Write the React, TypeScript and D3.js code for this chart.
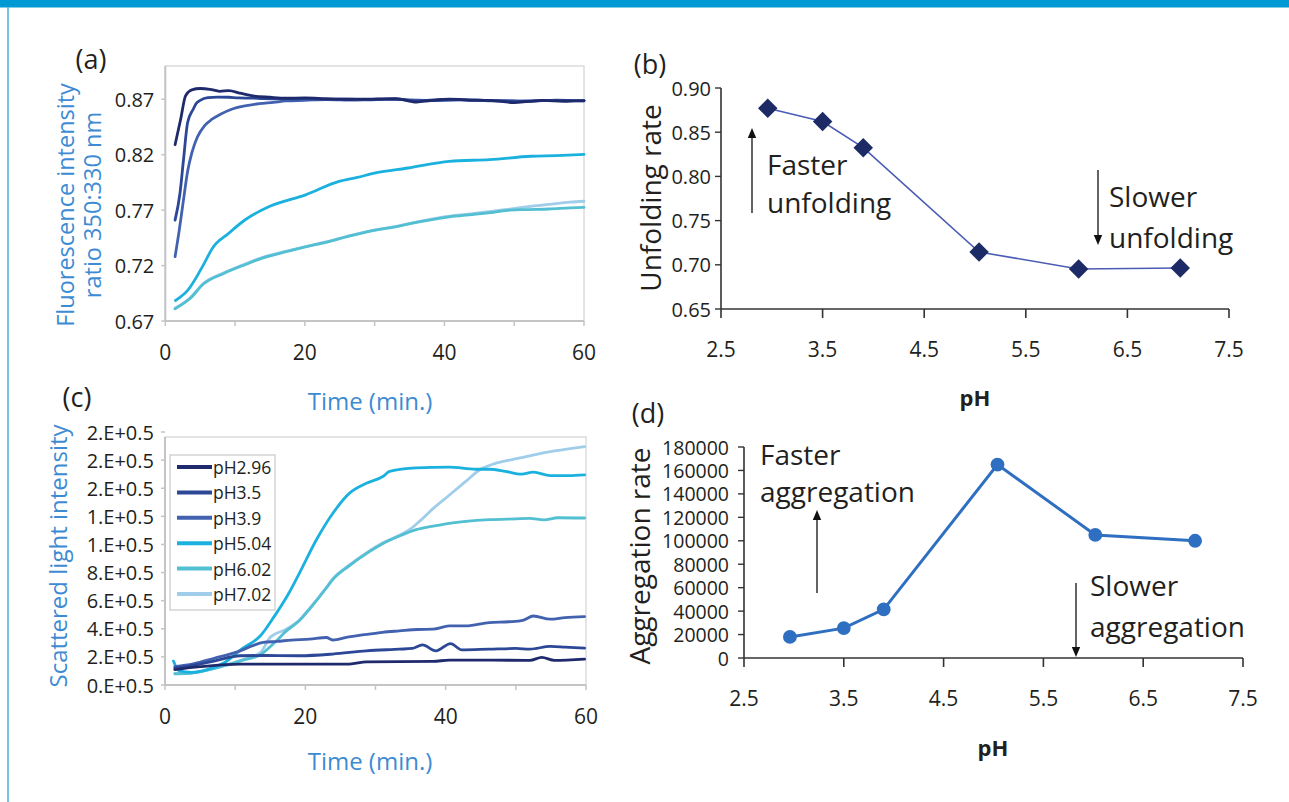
import React from 'react';
import * as d3 from 'd3';

const W = 1289;
const H = 802;
const FONT = "'Open Sans', 'Noto Sans', sans-serif";
const INK = '#231f20';
const BLUE_TITLE = '#3d8bd3';

// ---------- shared categories ----------
const phLabels = ['pH2.96', 'pH3.5', 'pH3.9', 'pH5.04', 'pH6.02', 'pH7.02'];
const phColors = ['#1f2a6d', '#2b4796', '#4262b0', '#1bb1de', '#52bfd2', '#a0cdea'];
const timeTicks = [0, 10, 20, 30, 40, 50, 60];
const timeTickLabels = [0, 20, 40, 60];

// ---------- panel (a): fluorescence ratio vs time ----------
const aTicksY = [0.67, 0.72, 0.77, 0.82, 0.87];
const aT296 = [1.4, 2.2, 2.9, 3.8, 5.0, 6.4, 7.8, 9.1, 10.7, 12.6, 15, 17.3, 20, 23.1, 26, 28.9, 33, 36, 38, 40.7, 43, 46.5, 50, 52, 54.2, 57, 60];
const aV296 = [0.829, 0.852, 0.873, 0.8785, 0.8797, 0.879, 0.8772, 0.8778, 0.8755, 0.873, 0.8718, 0.871, 0.8712, 0.8705, 0.870, 0.8702, 0.8706, 0.8675, 0.8688, 0.8702, 0.8695, 0.869, 0.867, 0.868, 0.869, 0.8682, 0.8688];
const aT35 = [1.4, 2.1, 2.6, 3.2, 4.0, 4.4, 5.0, 6.1, 7.5, 9.1, 10.5, 12.6, 14, 17, 20, 23, 26, 29, 33, 36, 40, 44, 48, 52, 56, 60];
const aV35 = [0.761, 0.785, 0.815, 0.849, 0.861, 0.866, 0.869, 0.8715, 0.872, 0.8718, 0.8712, 0.871, 0.8705, 0.8703, 0.8705, 0.8698, 0.8702, 0.8695, 0.8703, 0.8685, 0.8698, 0.869, 0.8688, 0.8682, 0.8692, 0.8686];
const aT39 = [1.4, 2.0, 2.6, 3.2, 3.8, 4.6, 5.6, 6.7, 7.9, 9.5, 11.4, 13.5, 15.5, 17.3, 20, 23.1, 27, 31, 35, 39, 43, 47, 51, 55, 60];
const aV39 = [0.728, 0.752, 0.779, 0.805, 0.8216, 0.836, 0.846, 0.852, 0.8564, 0.861, 0.864, 0.866, 0.8672, 0.8685, 0.869, 0.8698, 0.8692, 0.870, 0.8694, 0.8688, 0.8696, 0.8686, 0.8684, 0.869, 0.8686];
const aT504 = [1.46, 3.2, 5.56, 6.73, 9.07, 11.4, 14.9, 20.1, 24.9, 27.5, 30.1, 34.8, 40.7, 46.5, 52.4, 56, 60];
const aV504 = [0.6885, 0.6976, 0.7218, 0.7354, 0.749, 0.7611, 0.7732, 0.7838, 0.7959, 0.7995, 0.8035, 0.808, 0.814, 0.8156, 0.8186, 0.8192, 0.8202];
const aTLight = [1.4, 3.5, 5.5, 8.3, 11.5, 14, 17, 20.1, 23, 26, 30.1, 33, 36, 40.7, 44, 47, 49.4, 52, 55, 58, 60];
const aV602 = [0.681, 0.690, 0.7036, 0.7127, 0.721, 0.727, 0.732, 0.7369, 0.741, 0.746, 0.752, 0.755, 0.759, 0.764, 0.766, 0.768, 0.770, 0.7705, 0.771, 0.772, 0.7725];
const aV702 = [0.6815, 0.6905, 0.704, 0.7132, 0.7215, 0.7275, 0.7325, 0.7372, 0.7413, 0.7462, 0.7522, 0.7553, 0.7592, 0.7645, 0.7668, 0.7692, 0.771, 0.7732, 0.7752, 0.7772, 0.778];

// ---------- panel (c): scattered light vs time (units of 1e5) ----------
const cTicksY = [0, 2, 4, 6, 8, 10, 12, 14, 16, 18];
const cTickLabels = ['0.E+0.5', '2.E+0.5', '4.E+0.5', '6.E+0.5', '8.E+0.5', '1.E+0.5', '1.E+0.5', '2.E+0.5', '2.E+0.5', '2.E+0.5'];
const cT296 = [1.4, 5, 10.7, 19.2, 26.3, 28.7, 38.2, 40.5, 46.2, 52, 53.7, 55.5, 59.8];
const cV296 = [1.1, 1.3, 1.49, 1.49, 1.49, 1.65, 1.68, 1.77, 1.77, 1.75, 1.96, 1.75, 1.84];
const cT35 = [1.4, 4, 7, 10.7, 14, 19.2, 23.9, 28.7, 33.4, 35.2, 36.7, 38.6, 40.7, 42.3, 46.2, 50, 52, 54.9, 57, 59.8];
const cV35 = [1.2, 1.4, 1.7, 2.08, 2.1, 2.08, 2.2, 2.43, 2.55, 2.6, 2.85, 2.43, 2.95, 2.5, 2.55, 2.6, 2.55, 2.75, 2.7, 2.62];
const cT39 = [1.4, 4, 7, 10.7, 12.5, 14, 16, 18, 20.6, 23, 23.9, 26, 28.7, 31, 33.4, 36, 38.2, 40.5, 42.9, 46.2, 49, 51, 52.5, 54.9, 57, 59.8];
const cV39 = [1.3, 1.5, 1.9, 2.43, 2.8, 3.03, 3.1, 3.2, 3.26, 3.38, 3.2, 3.4, 3.6, 3.75, 3.85, 3.95, 3.97, 4.2, 4.2, 4.44, 4.5, 4.6, 4.91, 4.68, 4.8, 4.87];
const cT504 = [1.2, 2.0, 3.8, 6.0, 8.5, 10.9, 13.6, 15.6, 17.5, 19.2, 21.6, 23.9, 26.3, 28.7, 31.1, 32.0, 35.8, 40.5, 44.3, 46.2, 48.5, 50.8, 52.5, 54.9, 57.5, 59.8];
const cV504 = [1.7, 1.0, 0.9, 1.1, 1.6, 2.55, 3.5, 4.9, 6.4, 8.0, 10.35, 12.2, 13.65, 14.35, 14.85, 15.2, 15.45, 15.5, 15.35, 15.35, 15.2, 15.0, 15.15, 14.9, 14.9, 14.95];
const cT602 = [1.4, 3.8, 6.0, 8.5, 11.0, 13.6, 15.6, 17.2, 19.2, 20.6, 23.0, 23.9, 26.3, 28.7, 31.0, 33.4, 35.8, 38.2, 40.5, 42.9, 46.2, 50, 52, 54, 56, 59.8];
const cV602 = [0.8, 0.85, 1.05, 1.37, 1.75, 2.15, 3.0, 3.8, 4.6, 5.4, 6.9, 7.5, 8.5, 9.35, 10.05, 10.6, 11.05, 11.3, 11.5, 11.64, 11.76, 11.82, 11.85, 11.75, 11.9, 11.88];
const cT702 = [1.4, 3.8, 6.0, 8.5, 11.0, 13.6, 15.0, 17.2, 19.2, 20.6, 23.0, 23.9, 26.3, 28.7, 31.0, 33.4, 35.0, 36.5, 38.2, 40.5, 42.9, 44.8, 47, 49.1, 52, 54.9, 57.5, 59.8];
const cV702 = [0.8, 0.85, 1.05, 1.4, 1.8, 2.3, 3.4, 3.95, 4.65, 5.45, 6.95, 7.55, 8.55, 9.4, 10.1, 10.65, 11.1, 11.75, 12.55, 13.5, 14.5, 15.3, 15.75, 16.0, 16.3, 16.6, 16.8, 16.96];

// ---------- panels (b) and (d): rates vs pH ----------
const phValues = [2.96, 3.5, 3.9, 5.04, 6.02, 7.02];
const unfoldingRate = [0.877, 0.862, 0.8325, 0.7145, 0.6952, 0.6963];
const aggregationRate = [18000, 25500, 41500, 165000, 105000, 100000];
const phTicks = [2.5, 3.5, 4.5, 5.5, 6.5, 7.5];
const bTicksY = [0.65, 0.7, 0.75, 0.8, 0.85, 0.9];
const dTicksY = [0, 20000, 40000, 60000, 80000, 100000, 120000, 140000, 160000, 180000];

type Series = { t: number[]; v: number[]; color: string };
const aSeries: Series[] = [
  { t: aTLight, v: aV702, color: phColors[5] },
  { t: aTLight, v: aV602, color: phColors[4] },
  { t: aT504, v: aV504, color: phColors[3] },
  { t: aT39, v: aV39, color: phColors[2] },
  { t: aT35, v: aV35, color: phColors[1] },
  { t: aT296, v: aV296, color: phColors[0] },
];
const cSeries: Series[] = [
  { t: cT702, v: cV702, color: phColors[5] },
  { t: cT602, v: cV602, color: phColors[4] },
  { t: cT504, v: cV504, color: phColors[3] },
  { t: cT39, v: cV39, color: phColors[2] },
  { t: cT35, v: cV35, color: phColors[1] },
  { t: cT296, v: cV296, color: phColors[0] },
];

function Arrow({ x, from, to }: { x: number; from: number; to: number }) {
  const dir = to < from ? -1 : 1;
  const hl = 10;
  const hw = 4.2;
  return (
    <g>
      <line x1={x} y1={from} x2={x} y2={to - dir * hl} stroke="#222" strokeWidth={1.4} />
      <path d={`M${x},${to} L${x - hw},${to - dir * hl} L${x + hw},${to - dir * hl} Z`} fill="#111" />
    </g>
  );
}

function TimePanel({
  series, x, y, ticksY, tickLabels, frameTop,
}: {
  series: Series[]; x: d3.ScaleLinear<number, number>; y: d3.ScaleLinear<number, number>;
  ticksY: number[]; tickLabels: string[]; frameTop: number;
}) {
  const [x0, x1] = x.range();
  const y0 = y.range()[0];
  const line = (s: Series) =>
    d3.line<number>().x((_, i) => x(s.t[i])).y((d) => y(d)).curve(d3.curveMonotoneX)(s.v) || '';
  return (
    <g>
      <rect x={x0} y={frameTop} width={x1 - x0} height={y0 - frameTop} fill="none" stroke="#dcdcdc" strokeWidth={1.5} />
      <line x1={x0} y1={frameTop} x2={x0} y2={y0} stroke="#c4c4c4" strokeWidth={2} />
      <line x1={x0} y1={y0} x2={x1} y2={y0} stroke="#c4c4c4" strokeWidth={2} />
      {ticksY.map((v) => (
        <line key={'ty' + v} x1={x0 - 4} x2={x0} y1={y(v)} y2={y(v)} stroke="#c4c4c4" strokeWidth={1.5} />
      ))}
      {timeTicks.map((t) => (
        <line key={'tx' + t} x1={x(t)} x2={x(t)} y1={y0} y2={y0 + 5} stroke="#c4c4c4" strokeWidth={1.5} />
      ))}
      {series.map((s, i) => (
        <path key={i} d={line(s)} fill="none" stroke={s.color} strokeWidth={2.8} strokeLinejoin="round" strokeLinecap="round" />
      ))}
      {ticksY.map((v, i) => (
        <text key={'ly' + v} x={x0 - 11} y={y(v)} textAnchor="end" dominantBaseline="central" fontSize={20} fill={INK} fontFamily={FONT}>
          {tickLabels[i]}
        </text>
      ))}
      {timeTickLabels.map((t) => (
        <text key={'lx' + t} x={x(t)} y={y0 + 31} textAnchor="middle" dominantBaseline="central" fontSize={21} fill={INK} fontFamily={FONT}>
          {t}
        </text>
      ))}
    </g>
  );
}

function PhPanel({
  values, x, y, ticksY, tickFmt, kind, lineColor, markerColor, lineWidth, labelGap, tickFont,
}: {
  values: number[]; x: d3.ScaleLinear<number, number>; y: d3.ScaleLinear<number, number>;
  ticksY: number[]; tickFmt: (v: number) => string; kind: 'diamond' | 'circle';
  lineColor: string; markerColor: string; lineWidth: number; labelGap: number; tickFont: number;
}) {
  const [x0, x1] = x.range();
  const y0 = y.range()[0];
  const yTop = y.range()[1];
  const path = d3.line<number>().x((_, i) => x(phValues[i])).y((d) => y(d))(values) || '';
  const sym = d3.symbol().type(kind === 'diamond' ? d3.symbolSquare : d3.symbolCircle).size(kind === 'diamond' ? 190 : 150)();
  return (
    <g>
      <line x1={x0} y1={yTop} x2={x0} y2={y0} stroke="#333" strokeWidth={1.6} />
      <line x1={x0} y1={y0} x2={x1} y2={y0} stroke="#333" strokeWidth={1.6} />
      {ticksY.map((v) => (
        <line key={'ty' + v} x1={x0 - 6} x2={x0} y1={y(v)} y2={y(v)} stroke="#333" strokeWidth={1.4} />
      ))}
      {phTicks.map((p) => (
        <line key={'tx' + p} x1={x(p)} x2={x(p)} y1={y0} y2={y0 + 9} stroke="#333" strokeWidth={1.6} />
      ))}
      <path d={path} fill="none" stroke={lineColor} strokeWidth={lineWidth} />
      {values.map((v, i) => (
        <path key={i} d={sym || ''} transform={`translate(${x(phValues[i])},${y(v)})${kind === 'diamond' ? ' rotate(45)' : ''}`} fill={markerColor} />
      ))}
      {ticksY.map((v) => (
        <text key={'ly' + v} x={x0 - labelGap} y={y(v)} textAnchor="end" dominantBaseline="central" fontSize={tickFont} fill={INK} fontFamily={FONT}>
          {tickFmt(v)}
        </text>
      ))}
      {phTicks.map((p) => (
        <text key={'lx' + p} x={x(p)} y={y0 + 40} textAnchor="middle" dominantBaseline="central" fontSize={21} fill={INK} fontFamily={FONT}>
          {p.toFixed(1)}
        </text>
      ))}
    </g>
  );
}

export default function App() {
  const xa = d3.scaleLinear().domain([0, 60]).range([165.3, 584]);
  const ya = d3.scaleLinear().domain([0.67, 0.9]).range([321, 66]);
  const xc = d3.scaleLinear().domain([0, 60]).range([165, 586]);
  const yc = d3.scaleLinear().domain([0, 18]).range([685, 432]);
  const xb = d3.scaleLinear().domain([2.5, 7.5]).range([721, 1229]);
  const yb = d3.scaleLinear().domain([0.65, 0.9]).range([309, 88]);
  const xd = d3.scaleLinear().domain([2.5, 7.5]).range([744, 1243]);
  const yd = d3.scaleLinear().domain([0, 180000]).range([658, 447]);

  const txt = (props: any, s: string) => (
    <text fontFamily={FONT} fill={INK} {...props}>{s}</text>
  );

  return (
    <svg width={W} height={H} viewBox={`0 0 ${W} ${H}`} style={{ position: 'absolute', left: 0, top: 0, background: '#fff' }}>
      <rect x={0} y={0} width={W} height={H} fill="#fff" />
      <rect x={0} y={0} width={W} height={7.5} fill="#0099d3" />
      <line x1={8} y1={7} x2={8} y2={H} stroke="#48b2e2" strokeWidth={1.5} />

      {/* (a) */}
      {txt({ x: 91, y: 58, fontSize: 27, textAnchor: 'middle', dominantBaseline: 'central' }, '(a)')}
      <TimePanel series={aSeries} x={xa} y={ya} ticksY={aTicksY} tickLabels={aTicksY.map((v) => v.toFixed(2))} frameTop={66} />
      <text transform="translate(65,205) rotate(-90)" textAnchor="middle" dominantBaseline="central" fontSize={23.5} fill={BLUE_TITLE} fontFamily={FONT}>Fluorescence intensity</text>
      <text transform="translate(92,205) rotate(-90)" textAnchor="middle" dominantBaseline="central" fontSize={23.5} fill={BLUE_TITLE} fontFamily={FONT}>ratio 350:330 nm</text>
      {txt({ x: 370, y: 400, fontSize: 24, textAnchor: 'middle', dominantBaseline: 'central', fill: BLUE_TITLE }, 'Time (min.)')}

      {/* (c) */}
      {txt({ x: 77, y: 396, fontSize: 27, textAnchor: 'middle', dominantBaseline: 'central' }, '(c)')}
      <TimePanel series={cSeries} x={xc} y={yc} ticksY={cTicksY} tickLabels={cTickLabels} frameTop={437} />
      <text transform="translate(57,556) rotate(-90)" textAnchor="middle" dominantBaseline="central" fontSize={24} fill={BLUE_TITLE} fontFamily={FONT}>Scattered light intensity</text>
      {txt({ x: 370, y: 760, fontSize: 24, textAnchor: 'middle', dominantBaseline: 'central', fill: BLUE_TITLE }, 'Time (min.)')}
      <g>
        <rect x={170} y={455} width={105} height={155} fill="#fff" stroke="#d4d4d4" strokeWidth={1.5} />
        {phLabels.map((l, i) => (
          <g key={l}>
            <line x1={177} x2={212} y1={467 + i * 25.4} y2={467 + i * 25.4} stroke={phColors[i]} strokeWidth={4} />
            <text x={213} y={467 + i * 25.4} dominantBaseline="central" fontSize={17.5} fill={INK} fontFamily={FONT}>{l}</text>
          </g>
        ))}
      </g>

      {/* (b) */}
      {txt({ x: 650, y: 63, fontSize: 27, textAnchor: 'middle', dominantBaseline: 'central' }, '(b)')}
      <PhPanel values={unfoldingRate} x={xb} y={yb} ticksY={bTicksY} tickFmt={(v) => v.toFixed(2)} kind="diamond" lineColor="#4a5cb4" markerColor="#1c2a66" lineWidth={1.6} labelGap={10} tickFont={20} />
      <text transform="translate(650,198) rotate(-90)" textAnchor="middle" dominantBaseline="central" fontSize={28} fill={INK} fontFamily={FONT}>Unfolding rate</text>
      {txt({ x: 975, y: 397, fontSize: 22, fontWeight: 700, textAnchor: 'middle', dominantBaseline: 'central' }, 'pH')}
      <Arrow x={752} from={213} to={128} />
      {txt({ x: 767, y: 175, fontSize: 28 }, 'Faster')}
      {txt({ x: 767, y: 213, fontSize: 28 }, 'unfolding')}
      <Arrow x={1098} from={170} to={245} />
      {txt({ x: 1109, y: 207, fontSize: 28 }, 'Slower')}
      {txt({ x: 1109, y: 248, fontSize: 28 }, 'unfolding')}

      {/* (d) */}
      {txt({ x: 648, y: 412, fontSize: 27, textAnchor: 'middle', dominantBaseline: 'central' }, '(d)')}
      <PhPanel values={aggregationRate} x={xd} y={yd} ticksY={dTicksY} tickFmt={(v) => String(v)} kind="circle" lineColor="#2f6fc1" markerColor="#2f6fc1" lineWidth={3} labelGap={15} tickFont={19.5} />
      <text transform="translate(639,556) rotate(-90)" textAnchor="middle" dominantBaseline="central" fontSize={28} fill={INK} fontFamily={FONT}>Aggregation rate</text>
      {txt({ x: 993, y: 747, fontSize: 22, fontWeight: 700, textAnchor: 'middle', dominantBaseline: 'central' }, 'pH')}
      <Arrow x={817} from={593} to={510} />
      {txt({ x: 760, y: 465, fontSize: 28 }, 'Faster')}
      {txt({ x: 760, y: 502, fontSize: 28 }, 'aggregation')}
      <Arrow x={1076} from={583} to={657} />
      {txt({ x: 1090, y: 596, fontSize: 28 }, 'Slower')}
      {txt({ x: 1090, y: 637, fontSize: 28 }, 'aggregation')}
    </svg>
  );
}
